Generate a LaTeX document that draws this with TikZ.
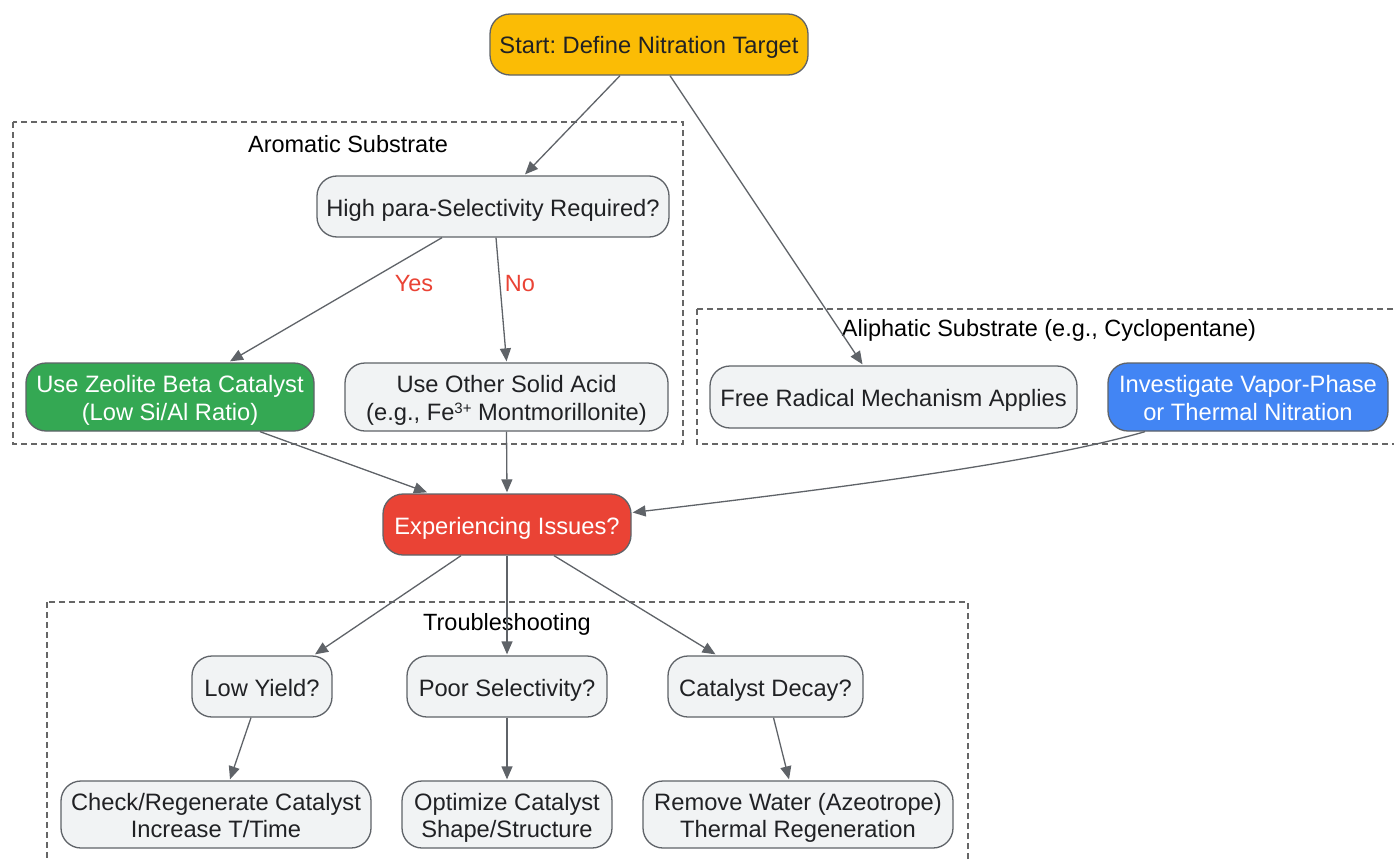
\documentclass[tikz,border=0pt]{standalone}
\usepackage{fontspec}
\setmainfont{Liberation Sans}
\usetikzlibrary{arrows.meta}
\frenchspacing
\definecolor{edgec}{HTML}{5F6368}
\definecolor{nodefill}{HTML}{F1F3F4}
\definecolor{gyellow}{HTML}{FBBC05}
\definecolor{ggreen}{HTML}{34A853}
\definecolor{gblue}{HTML}{4285F4}
\definecolor{gred}{HTML}{EA4335}
\definecolor{txt}{HTML}{202124}
\definecolor{clus}{HTML}{666666}
\newcommand{\supthree}{\raisebox{7pt}{\fontsize{15}{15}\selectfont 3+}}
\newcommand{\nt}[1]{\vbox{\kern8pt\hbox{\begin{tabular}{@{}c@{}}#1\end{tabular}}}}
\tikzset{
  box/.style={draw=edgec, line width=1.3pt, rounded corners=20pt, fill=nodefill, text=txt,
    inner sep=0pt, font=\fontsize{23.7}{27.5}\selectfont},
  cluster/.style={draw=clus, line width=1.3pt, dash pattern=on 6pt off 4pt},
  clabel/.style={font=\fontsize{23.5}{27}\selectfont, text=black},
  conn/.style={draw=edgec, line width=1.3pt, -{Triangle[length=13pt,width=11pt]}},
  elabel/.style={font=\fontsize{23.5}{27}\selectfont, text=gred}
}
\begin{document}
\begin{tikzpicture}[x=1pt,y=-1pt]
\useasboundingbox (0,0) rectangle (1394,859);
\clip (0,0) rectangle (1394,859);
\fill[white] (0,0) rectangle (1394,859);
% clusters
\draw[cluster] (13,122) rectangle (683,444);
\node[clabel] (laro) at (348,144) {Aromatic Substrate};
\draw[cluster] (697,309) rectangle (1410,444);
\node[clabel] (lali) at (1049,330) {Aliphatic Substrate (e.g., Cyclopentane)};
\draw[cluster] (47,602) rectangle (968,880);
\node[clabel] (ltro) at (507,624) {Troubleshooting};
% nodes
\node[box, fill=gyellow, minimum width=318pt, minimum height=61pt] (start) at (649,44.5) {\nt{Start: Define Nitration Target}};
\node[box, minimum width=352pt, minimum height=61pt] (hp) at (493,206.5) {\nt{High para-Selectivity Required?}};
\node[box, fill=ggreen, text=white, minimum width=288pt, minimum height=68pt] (zeo) at (170,397) {\nt{Use Zeolite Beta Catalyst\\(Low Si/Al Ratio)}};
\node[box, minimum width=323pt, minimum height=68pt] (oth) at (506.5,397) {\nt{Use Other Solid Acid\\(e.g., Fe\supthree{} Montmorillonite)}};
\node[box, minimum width=367pt, minimum height=62pt] (fr) at (893.5,397) {\nt{Free Radical Mechanism Applies}};
\node[box, fill=gblue, text=white, minimum width=280pt, minimum height=68pt] (inv) at (1248,397) {\nt{Investigate Vapor-Phase\\or Thermal Nitration}};
\node[box, fill=gred, text=white, minimum width=248pt, minimum height=61pt] (exp) at (507,524.5) {\nt{Experiencing Issues?}};
\node[box, minimum width=140pt, minimum height=61pt] (ly) at (262,686.5) {\nt{Low Yield?}};
\node[box, minimum width=200pt, minimum height=61pt] (ps) at (507,686.5) {\nt{Poor Selectivity?}};
\node[box, minimum width=195pt, minimum height=61pt] (cd) at (765.5,686.5) {\nt{Catalyst Decay?}};
\node[box, minimum width=310pt, minimum height=67pt] (chk) at (216,814.5) {\nt{Check/Regenerate Catalyst\\Increase T/Time}};
\node[box, minimum width=210pt, minimum height=67pt] (opt) at (507,814.5) {\nt{Optimize Catalyst\\Shape/Structure}};
\node[box, minimum width=310pt, minimum height=67pt] (rem) at (798,814.5) {\nt{Remove Water (Azeotrope)\\Thermal Regeneration}};
% edges
\draw[conn] ([xshift=-29pt]start.south) -- ([xshift=32pt,yshift=1pt]hp.north);
\draw[conn] ([xshift=21pt]start.south) -- ([xshift=-31pt,yshift=1pt]fr.north);
\draw[conn] ([xshift=-51pt]hp.south) -- ([xshift=60pt,yshift=1pt]zeo.north);
\draw[conn] ([xshift=3pt]hp.south) -- ([yshift=1pt]oth.north);
\node[elabel] (yes) at (414,284) {Yes};
\node[elabel] (no) at (520,284) {No};
\draw[conn] ([xshift=90pt]zeo.south) -- ([xshift=-80pt,yshift=1pt]exp.north);
\draw[conn] (oth.south) -- ([yshift=1pt]exp.north);
\draw[conn] ([xshift=-103pt]inv.south) .. controls (1040,462) and (840,488) .. ([xshift=1pt,yshift=12pt]exp.east);
\draw[conn] ([xshift=-46pt]exp.south) -- ([xshift=53pt,yshift=1pt]ly.north);
\draw[conn] (exp.south) -- ([yshift=1pt]ps.north);
\draw[conn] ([xshift=47pt]exp.south) -- ([xshift=-50pt,yshift=1pt]cd.north);
\draw[conn] ([xshift=-11pt]ly.south) -- ([xshift=14pt,yshift=1pt]chk.north);
\draw[conn] (ps.south) -- ([yshift=1pt]opt.north);
\draw[conn] ([xshift=8pt]cd.south) -- ([xshift=-9pt,yshift=1pt]rem.north);
\end{tikzpicture}
\end{document}
